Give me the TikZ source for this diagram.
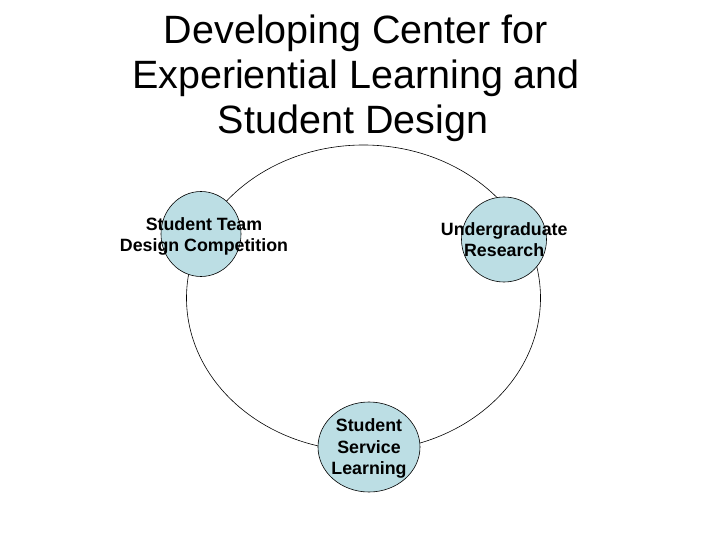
\documentclass[tikz,border=0pt]{standalone}
\usepackage{fontspec}
\setmainfont{Liberation Sans}
\usetikzlibrary{shapes.geometric}
\definecolor{bubble}{RGB}{188,222,228}
\begin{document}
\begin{tikzpicture}[x=1pt,y=-1pt,
  bubblenode/.style={ellipse,draw=black,line width=0.6pt,fill=bubble,inner sep=0pt},
  titleline/.style={anchor=base,inner sep=0pt,font=\fontsize{39.5}{45}\selectfont},
  labelline/.style={anchor=base,inner sep=0pt,font=\fontsize{17.8}{21.5}\selectfont\bfseries}]
\useasboundingbox (0,0) rectangle (720,540);
\fill[white] (0,0) rectangle (720,540);
% title
\node[titleline] (ti1) at (356,43.3) {Developing Center for};
\node[titleline] (ti2) at (356,88.5) {Experiential Learning and};
\node[titleline] (ti3) at (353,133.8) {Student Design};
% big ellipse
\draw[line width=0.6pt] (363.5,298) ellipse [x radius=177pt, y radius=153pt];
% bubbles
\node[bubblenode,minimum width=80pt,minimum height=85pt] (tl) at (201,234) {};
\node[bubblenode,minimum width=85pt,minimum height=85pt] (tr) at (504,239.5) {};
\node[bubblenode,minimum width=102pt,minimum height=90pt] (bt) at (369,447) {};
% labels
\node[labelline] (tla) at (204,230) {Student Team};
\node[labelline] (tlb) at (204,251.7) {Design Competition};
\node[labelline] (tra) at (504.2,235.7) {Undergraduate};
\node[labelline] (trb) at (504.2,256.7) {Research};
\node[labelline] (bta) at (369,431.7) {Student};
\node[labelline] (btb) at (369,453.3) {Service};
\node[labelline] (btc) at (369,474.5) {Learning};
\end{tikzpicture}
\end{document}
